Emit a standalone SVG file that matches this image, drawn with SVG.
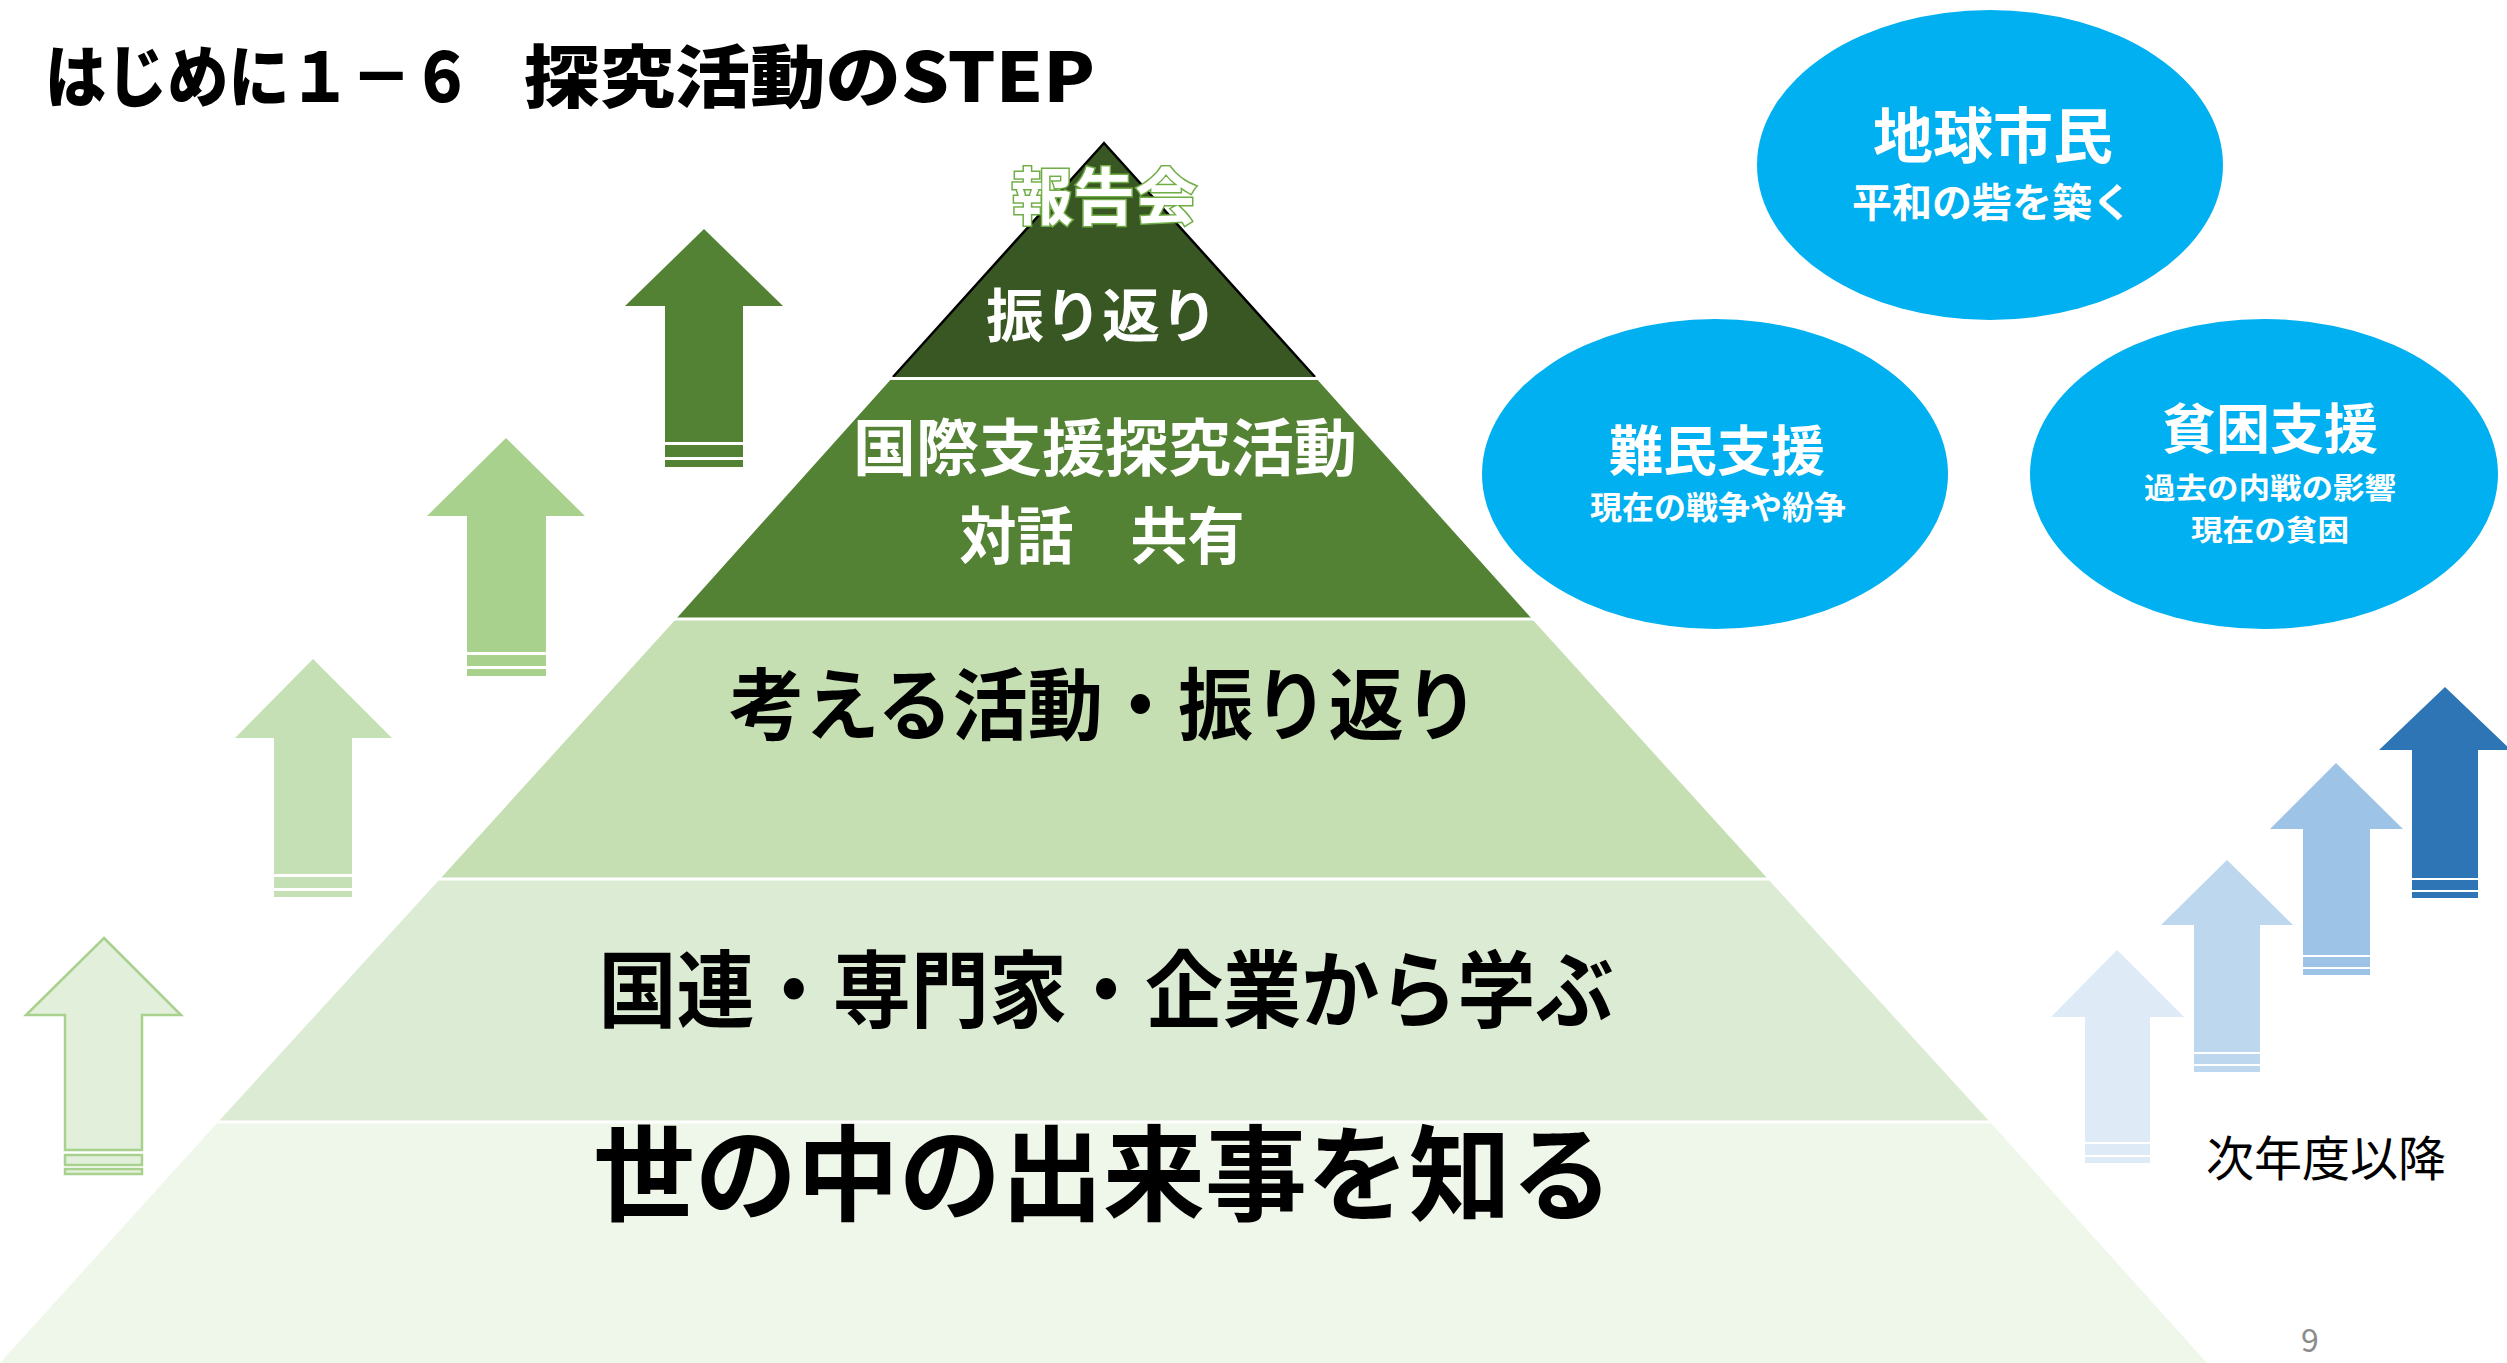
<svg xmlns="http://www.w3.org/2000/svg" width="2507" height="1363" viewBox="0 0 2507 1363">
<style>
  text { font-family: "Noto Sans CJK JP", "Noto Sans", sans-serif; text-anchor: middle; }
  .title { font-size: 68px; font-weight: 900; fill: #000; text-anchor: start; }
  .wlab { fill: #fff; font-weight: 700; }
  .blab { fill: #000; font-weight: 700; }
  .circ { fill: #00B0F0; }
  .sep { stroke: #fff; stroke-width: 3; }
</style>
<rect width="2507" height="1363" fill="#fff"/>

<g id="title">
  <text class="title" x="45" y="102" textLength="428" lengthAdjust="spacingAndGlyphs">はじめに１－６</text>
  <text class="title" x="524" y="102" textLength="571" lengthAdjust="spacingAndGlyphs">探究活動のSTEP</text>
</g>

<g id="pyramid">
  <g id="level5">
    <polygon points="218,1122 1990,1122 2207,1363 0,1363" fill="#EFF6EA"/>
    <text class="blab" x="1103" y="1213" font-size="104" textLength="1020" lengthAdjust="spacingAndGlyphs">世の中の出来事を知る</text>
  </g>
  <g id="level4">
    <polygon points="440,879 1768,879 1990,1122 218,1122" fill="#DCEBD3"/>
    <text class="blab" x="1106" y="1021" font-size="84" textLength="1015" lengthAdjust="spacingAndGlyphs">国連・専門家・企業から学ぶ</text>
  </g>
  <g id="level3">
    <polygon points="676,619 1532,619 1768,879 440,879" fill="#C5DFB2"/>
    <text class="blab" x="1104" y="734" font-size="78" textLength="750" lengthAdjust="spacingAndGlyphs">考える活動・振り返り</text>
  </g>
  <g id="level2">
    <polygon points="893,377 1315,377 1532,619 676,619" fill="#548235"/>
    <text class="wlab" x="1105" y="471" font-size="62" textLength="504" lengthAdjust="spacingAndGlyphs">国際支援探究活動</text>
    <text class="wlab" x="1102" y="559" font-size="62" textLength="285" lengthAdjust="spacingAndGlyphs">対話　共有</text>
  </g>
  <g id="level1">
    <polygon points="1104,143 1315,377 893,377" fill="#385723"/>
    <polyline points="893,377 1104,143 1315,377" fill="none" stroke="#000" stroke-width="2.5"/>
    <text class="wlab" x="1102" y="337" font-size="58">振り返り</text>
    <text x="1104" y="220" font-size="62" font-weight="700" fill="#fff" stroke="#70AD47" stroke-width="3" paint-order="stroke">報告会</text>
  </g>
  <line class="sep" x1="880" y1="378.5" x2="1330" y2="378.5"/>
  <line class="sep" x1="660" y1="619" x2="1550" y2="619"/>
  <line class="sep" x1="420" y1="879" x2="1790" y2="879"/>
  <line class="sep" x1="200" y1="1122" x2="2010" y2="1122"/>
</g>

<g id="green-arrows">
  <g id="garrow1" fill="#548235">
    <polygon points="704,229 783,306 743,306 743,442 665,442 665,306 625,306"/>
    <rect x="665" y="445" width="78" height="12"/>
    <rect x="665" y="460" width="78" height="7"/>
  </g>
  <g id="garrow2" fill="#A9D18E">
    <polygon points="506,438 585,516 546,516 546,652 467,652 467,516 427,516"/>
    <rect x="467" y="655" width="79" height="11"/>
    <rect x="467" y="669" width="79" height="7"/>
  </g>
  <g id="garrow3" fill="#C5E0B4">
    <polygon points="313,659 392,738 352,738 352,874 274,874 274,738 235,738"/>
    <rect x="274" y="877" width="78" height="11"/>
    <rect x="274" y="891" width="78" height="6"/>
  </g>
  <g id="garrow4" fill="#E2EFDA" stroke="#A9D18E" stroke-width="2.5">
    <polygon points="104,938 181,1015 142,1015 142,1150 65,1150 65,1015 26,1015"/>
    <rect x="65" y="1155" width="77" height="10"/>
    <rect x="65" y="1169" width="77" height="5"/>
  </g>
</g>

<g id="blue-arrows">
  <g id="barrow1" fill="#DEEBF7">
    <polygon points="2117,950 2184,1017 2150,1017 2150,1142 2085,1142 2085,1017 2051,1017"/>
    <rect x="2085" y="1144" width="65" height="11"/>
    <rect x="2085" y="1157" width="65" height="6"/>
  </g>
  <g id="barrow2" fill="#BDD7EE">
    <polygon points="2227,860 2293,925 2260,925 2260,1052 2194,1052 2194,925 2161,925"/>
    <rect x="2194" y="1054" width="66" height="10"/>
    <rect x="2194" y="1066" width="66" height="6"/>
  </g>
  <g id="barrow3" fill="#9DC3E6">
    <polygon points="2336,763 2403,829 2370,829 2370,955 2303,955 2303,829 2270,829"/>
    <rect x="2303" y="957" width="67" height="10"/>
    <rect x="2303" y="969" width="67" height="6"/>
  </g>
  <g id="barrow4" fill="#2E75B6">
    <polygon points="2445,687 2511,750 2478,750 2478,878 2412,878 2412,750 2379,750"/>
    <rect x="2412" y="880" width="66" height="10"/>
    <rect x="2412" y="892" width="66" height="6"/>
  </g>
  <text id="next-year" x="2326" y="1176" font-size="48" font-weight="400" fill="#000">次年度以降</text>
</g>

<g id="circle-global">
  <ellipse class="circ" cx="1990" cy="165" rx="233" ry="155"/>
  <text class="wlab" x="1993" y="158" font-size="60">地球市民<tspan x="1992" y="217" font-size="40">平和の砦を築く</tspan></text>
</g>
<g id="circle-refugee">
  <ellipse class="circ" cx="1715" cy="474" rx="233" ry="155"/>
  <text class="wlab" x="1717" y="471" font-size="54">難民支援<tspan x="1718" y="519" font-size="32">現在の戦争や紛争</tspan></text>
</g>
<g id="circle-poverty">
  <ellipse class="circ" cx="2264" cy="474" rx="234" ry="155"/>
  <text class="wlab" x="2270" y="449" font-size="54">貧困支援<tspan x="2270" y="499" font-size="29" textLength="252" lengthAdjust="spacingAndGlyphs">過去の内戦の影響</tspan><tspan x="2270" y="541" font-size="29" textLength="158" lengthAdjust="spacingAndGlyphs">現在の貧困</tspan></text>
</g>

<g id="connectors"/>

<text id="page-number" x="2310" y="1352" font-size="32" fill="#8C8C8C" font-family="Noto Sans, sans-serif">9</text>
</svg>
